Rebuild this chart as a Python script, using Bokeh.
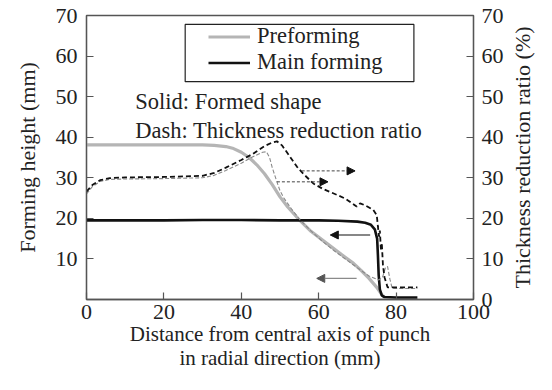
import math
from bokeh.plotting import figure
from bokeh.layouts import row
from bokeh.models import (LinearAxis, FixedTicker, Range1d, Label, Legend, LegendItem,
                          Arrow, NormalHead, BoxAnnotation)
from bokeh.embed import file_html
from bokeh.resources import INLINE

# ---------------- data ----------------
# Preforming: formed shape (left axis, mm)
preform_x = [0, 10, 20, 30, 33, 36, 38, 40, 42, 44, 46, 48, 50, 52, 55, 58, 62, 66, 69, 71, 73, 75, 76.3, 77]
preform_y = [38.1, 38.1, 38.1, 38.1, 38.0, 37.7, 37.2, 36.3, 35.0, 33.2, 31.0, 28.3, 25.3, 22.8, 19.6, 16.8,
             13.9, 11.0, 8.9, 7.1, 5.2, 3.0, 1.2, 0.6]

# Main forming: formed shape (left axis, mm)
main_x = [0, 10, 20, 30, 40, 50, 60, 65, 70, 72, 73.5, 74.5, 75.1, 75.3, 75.5, 75.8, 76.3, 77, 80, 85.5]
main_y = [19.5, 19.5, 19.5, 19.6, 19.6, 19.5, 19.5, 19.4, 19.2, 18.9, 18.4, 17.3, 15.0, 11.0, 6.0, 2.5,
          1.0, 0.6, 0.5, 0.5]

# Main forming: thickness reduction ratio (right axis, %)
main_thk_x = [0, 1.5, 3.5, 6, 10, 20, 30, 33, 36, 40, 43, 46, 48, 49.2, 50.5, 52, 54.4, 56, 58.6, 61,
              64.7, 67, 69.8, 70.7, 72, 74.1, 75, 75.3, 75.6, 75.8, 76.1, 76.3, 76.6, 77, 77.8, 85.5]
main_thk_y = [26.6, 28.2, 29.4, 29.9, 30.1, 30.2, 30.5, 31.2, 32.5, 34.4, 35.9, 37.8, 38.7, 39.0, 38.0,
              36.0, 32.7, 31.0, 28.6, 27.3, 25.8, 24.8, 22.9, 23.7, 23.2, 22.1, 20.8, 18.0, 15.5, 17.0,
              12.0, 14.0, 8.5, 5.5, 3.0, 3.0]

# Preforming: thickness reduction ratio (right axis, %)
pre_thk_x = [0, 1.5, 3.5, 6, 10, 20, 30, 33, 36, 40, 43, 45.5, 46.5, 47.3, 48, 49.2, 50, 51, 53, 55, 58,
             61, 64, 67, 70, 73, 75.5, 76.5, 77.3, 77.8, 78.4, 79, 85.5]
pre_thk_y = [26.0, 27.8, 29.1, 29.6, 29.7, 29.8, 30.0, 30.6, 31.8, 33.6, 35.2, 36.3, 36.4, 35.0, 32.5,
             29.0, 26.8, 25.0, 22.3, 19.8, 16.9, 14.3, 12.0, 9.9, 7.8, 5.8, 4.8, 5.5, 8.0, 8.1, 5.0,
             2.7, 2.7]

# indicator arrows (which axis each curve belongs to)
arrow_x_start = [55.6, 49.2, 73.3, 69.8]
arrow_x_end = [69.4, 62.4, 63.0, 59.5]
arrow_y = [31.7, 29.0, 15.9, 5.2]

x_ticks = [0, 20, 40, 60, 80, 100]
left_ticks = [10, 20, 30, 40, 50, 60, 70]
right_ticks = [0, 10, 20, 30, 40, 50, 60, 70]

# ---------------- style ----------------
FONT = "Liberation Serif"
TXT = "#222222"
AX = "#555555"
FS = "22.5px"

p = figure(width=506, height=374, output_backend="svg", toolbar_location=None,
           x_range=Range1d(0, 100), y_range=Range1d(0, 70),
           min_border_left=86, min_border_right=33, min_border_top=15, min_border_bottom=75)
p.xgrid.visible = False
p.ygrid.visible = False
p.outline_line_color = AX
p.outline_line_width = 1.3
p.background_fill_color = "white"
p.border_fill_color = "white"


def style_axis(ax, ticks, standoff, title, title_standoff, title_size):
    ax.ticker = FixedTicker(ticks=ticks)
    ax.major_tick_in = 7
    ax.major_tick_out = 0
    ax.minor_tick_in = 0
    ax.minor_tick_out = 0
    ax.axis_line_color = AX
    ax.axis_line_width = 1.3
    ax.major_tick_line_color = AX
    ax.major_tick_line_width = 1.2
    ax.major_label_text_font = FONT
    ax.major_label_text_font_size = "22px"
    ax.major_label_text_color = TXT
    ax.major_label_standoff = standoff
    ax.axis_label = title
    ax.axis_label_standoff = title_standoff
    ax.axis_label_text_font = FONT
    ax.axis_label_text_font_size = title_size
    ax.axis_label_text_font_style = "normal"
    ax.axis_label_text_color = TXT
    ax.axis_label_text_line_height = 1.0


style_axis(p.xaxis[0], x_ticks, 5,
           "Distance from central axis of punch\nin radial direction (mm)", 0, "21px")
style_axis(p.yaxis[0], left_ticks, 9, "Forming height (mm)", 13, "22px")

# right axis: ticks + labels
right_axis = LinearAxis()
style_axis(right_axis, right_ticks, 8, None, 0, "22px")
p.add_layout(right_axis, "right")

# curves
r_pre = p.line(preform_x, preform_y, line_color="#b5b5b5", line_width=3.2)
r_main = p.line(main_x, main_y, line_color="#111111", line_width=2.6)
p.line(pre_thk_x, pre_thk_y, line_color="#8a8a8a", line_width=1.1, line_dash="4 2")
p.line(main_thk_x, main_thk_y, line_color="#111111", line_width=1.8, line_dash="5 3")

# arrows
arrow_styles = [
    dict(line_color="#444444", line_width=1.0, line_dash="3 2", head="#111111"),
    dict(line_color="#444444", line_width=1.0, line_dash="3 2", head="#111111"),
    dict(line_color="#111111", line_width=1.1, line_dash="solid", head="#111111"),
    dict(line_color="#8a8a8a", line_width=1.1, line_dash="solid", head="#555555"),
]
for xs, xe, yy, st in zip(arrow_x_start, arrow_x_end, arrow_y, arrow_styles):
    p.add_layout(Arrow(end=NormalHead(size=8, fill_color=st["head"], line_color=st["head"]),
                       x_start=xs, y_start=yy, x_end=xe, y_end=yy,
                       line_color=st["line_color"], line_width=st["line_width"],
                       line_dash=st["line_dash"]))

# legend (box + entries)
p.add_layout(BoxAnnotation(left=25.5, right=84.6, bottom=53.7, top=67.8,
                           fill_alpha=0, line_color="#222222", line_alpha=1, line_width=1.2))
legend = Legend(items=[LegendItem(label="Preforming", renderers=[r_pre]),
                       LegendItem(label="Main forming", renderers=[r_main])],
                location=(117, 219), padding=5, spacing=0, margin=0,
                glyph_width=42, glyph_height=23, label_height=23, label_standoff=7,
                border_line_alpha=0, background_fill_alpha=0,
                label_text_font=FONT, label_text_font_size=FS, label_text_color=TXT)
p.add_layout(legend)

# notes
for yy, t in [(48.75, "Solid: Formed shape"), (41.6, "Dash: Thickness reduction ratio")]:
    p.add_layout(Label(x=12.6, y=yy, text=t, text_align="left", text_baseline="alphabetic",
                       text_font=FONT, text_font_size=FS, text_color=TXT))

# narrow companion figure carrying the right-hand axis title (reads bottom-to-top)
q = figure(width=30, height=374, output_backend="svg", toolbar_location=None,
           x_range=Range1d(0, 1), y_range=Range1d(0, 70),
           min_border_left=27, min_border_right=0, min_border_top=15, min_border_bottom=75)
q.xgrid.visible = False
q.ygrid.visible = False
q.xaxis.visible = False
q.outline_line_color = None
q.background_fill_color = "white"
q.border_fill_color = "white"
style_axis(q.yaxis[0], [], 0, "Thickness reduction ratio (%)", 0, "22px")
q.yaxis[0].axis_line_alpha = 0
q.yaxis[0].major_tick_line_alpha = 0

layout = row(p, q, spacing=0)
open("out.html", "w").write(file_html(layout, INLINE))
